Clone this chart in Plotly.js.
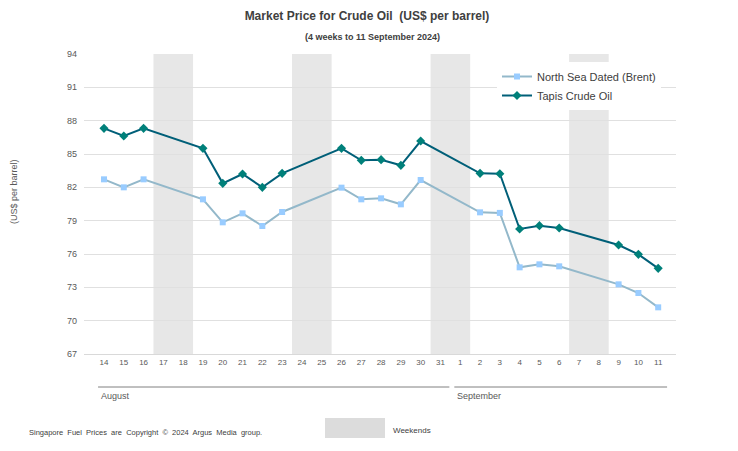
<!DOCTYPE html>
<html>
<head>
<meta charset="utf-8">
<script src="https://cdn.plot.ly/plotly-3.0.1.min.js"></script>
<style>html,body{margin:0;padding:0;background:#fff;}#chart{width:738px;height:451px;}</style>
</head>
<body>
<div id="chart"></div>
<script>
// Day labels (14 Aug – 11 Sep 2024)
const days = ['14','15','16','17','18','19','20','21','22','23','24','25','26','27','28','29','30','31','1','2','3','4','5','6','7','8','9','10','11'];
const weekendDays = ['17','18','24','25','31','1','7','8'];
const brent = [82.72, 82.0, 82.72, null, null, 80.92, 78.85, 79.66, 78.52, 79.78, null, null, 81.97, 80.92, 81.01, 80.47, 82.66, null, null, 79.75, 79.7, 74.8, 75.07, 74.89, null, null, 73.27, 72.49, 71.2];
const tapis = [87.31, 86.62, 87.31, null, null, 85.51, 82.36, 83.2, 82.0, 83.26, null, null, 85.51, 84.43, 84.49, 83.98, 86.17, null, null, 83.26, 83.22, 78.25, 78.55, 78.34, null, null, 76.81, 75.97, 74.71];
const yTicks = [67, 70, 73, 76, 79, 82, 85, 88, 91, 94];
const monthLabels = ['August', 'September'];
const monthFirstDay = ['14', '1'];
const monthLastDay = ['31', '11'];

const FONT = 'Liberation Sans, Arial, sans-serif';
const shapes = [];
// merge consecutive weekend days into single bands
const idx = weekendDays.map(d => days.indexOf(d)).sort((a,b)=>a-b);
let start = idx[0], prev = idx[0];
const bands = [];
for (let k = 1; k <= idx.length; k++) {
  if (k < idx.length && idx[k] === prev + 1) { prev = idx[k]; continue; }
  bands.push([start, prev]);
  if (k < idx.length) { start = idx[k]; prev = idx[k]; }
}
bands.forEach(([a,b]) => {
  shapes.push({type:'rect', xref:'x', yref:'paper', x0:a-0.5, x1:b+0.5, y0:0, y1:1,
    fillcolor:'#e7e7e7', line:{width:0}, layer:'below'});
});
const annotations = [];
// month brackets
monthLabels.forEach((m, k) => {
  const a = days.indexOf(monthFirstDay[k]);
  const b = days.lastIndexOf(monthLastDay[k]);
  shapes.push({type:'line', xref:'x', yref:'paper', x0:a-0.3, x1:b+0.45, y0:-0.11, y1:-0.11,
    line:{color:'#808080', width:1}});
  annotations.push({xref:'x', yref:'paper', x:a-0.25, y:-0.14, text:m, showarrow:false,
    xanchor:'left', yanchor:'middle', font:{family:FONT, size:9, color:'#595959'}});
});
// Weekend legend box
shapes.push({type:'rect', xref:'paper', yref:'paper', x0:(325-84)/592, x1:(385-84)/592,
  y0:(354-438)/300, y1:(354-418)/300, fillcolor:'#dcdcdc', line:{width:0}});
annotations.push({xref:'paper', yref:'paper', x:(391-84)/592, y:(354-430)/300, text:'Weekends',
  showarrow:false, xanchor:'left', yanchor:'middle', font:{family:FONT, size:8, color:'#404040'}});
annotations.push({xref:'paper', yref:'paper', x:(27-84)/592, y:(354-433)/300,
  text:'Singapore  Fuel  Prices  are  Copyright  ©  2024  Argus  Media  group.',
  showarrow:false, xanchor:'left', yanchor:'middle', font:{family:FONT, size:7.5, color:'#404040'}});
annotations.push({xref:'paper', yref:'paper', x:(372-84)/592, y:(354-37)/300,
  text:'<b>(4 weeks to 11 September 2024)</b>', showarrow:false, xanchor:'center', yanchor:'middle',
  font:{family:FONT, size:9, color:'#404040'}});
// y axis title
annotations.push({xref:'paper', yref:'paper', x:(14-84)/592, y:(354-192)/300,
  text:'(US$ per barrel)', showarrow:false, textangle:-90, xanchor:'center', yanchor:'middle',
  font:{family:FONT, size:9, color:'#595959'}});

const traces = [
  {x: days, y: brent, type:'scatter', mode:'lines+markers', name:'North Sea Dated (Brent)',
   connectgaps:true, line:{color:'#93b8ca', width:2},
   marker:{symbol:'square', size:6, color:'#99ccff'}},
  {x: days, y: tapis, type:'scatter', mode:'lines+markers', name:'Tapis Crude Oil',
   connectgaps:true, line:{color:'#005f78', width:2},
   marker:{symbol:'diamond', size:7, color:'#00807a'}}
];

const layout = {
  width:738, height:451,
  margin:{l:84, r:62, t:54, b:97},
  paper_bgcolor:'#fff', plot_bgcolor:'rgba(0,0,0,0)',
  font:{family:FONT, color:'#595959'},
  title:{text:'<b>Market Price for Crude Oil  (US$ per barrel)</b>', x:367/738, xanchor:'center',
    y:1-16/451, yanchor:'middle', xref:'container',
    font:{family:FONT, size:12, color:'#404040'}},
  xaxis:{type:'category', range:[-1.01, 28.9], showgrid:false, zeroline:false,
    showline:true, linecolor:'#d9d9d9', linewidth:1, ticks:'', tickfont:{family:FONT, size:8, color:'#595959'},
    tickangle:0, fixedrange:true},
  yaxis:{range:[67,94], tickvals:yTicks, showgrid:true, gridcolor:'#e0e0e0', gridwidth:1,
    zeroline:false, showline:false, ticks:'', ticklabelstandoff:6,
    tickfont:{family:FONT, size:9, color:'#595959'}},
  legend:{x:(497-84)/592, y:1-(62-54)/300, xanchor:'left', yanchor:'top', bgcolor:'#ffffff',
    font:{family:FONT, size:11, color:'#404040'}, tracegroupgap:5, itemwidth:30},
  showlegend:true,
  shapes: shapes,
  annotations: annotations
};
Plotly.newPlot('chart', traces, layout, {staticPlot:true});
</script>
</body>
</html>
